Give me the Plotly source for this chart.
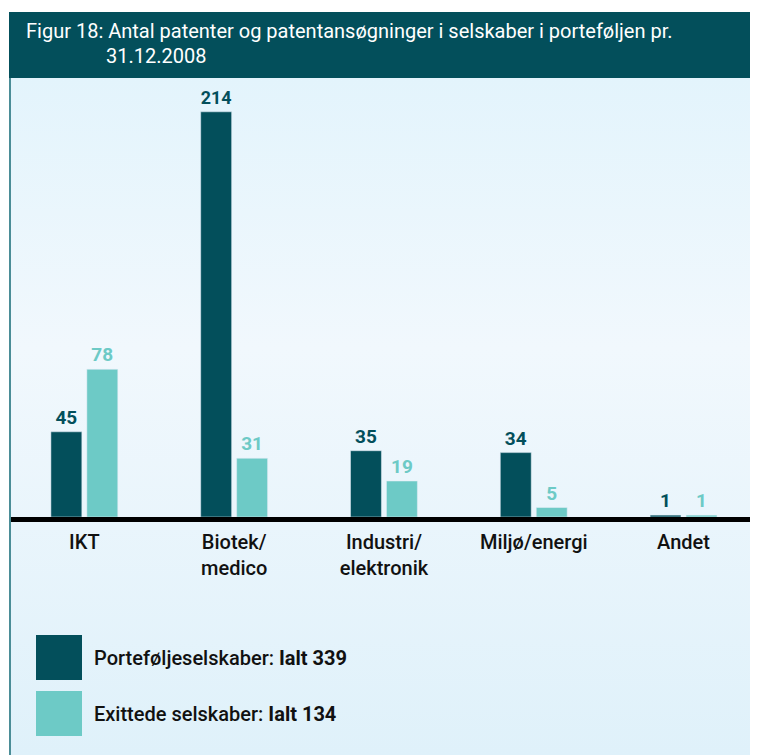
import plotly.graph_objects as go

categories = ["IKT", "Biotek/<br>medico", "Industri/<br>elektronik", "Miljø/energi", "Andet"]
portfolio = [45, 214, 35, 34, 1]
exited = [78, 31, 19, 5, 1]
series_names = ["Porteføljeselskaber: <b>Ialt 339</b>", "Exittede selskaber: <b>Ialt 134</b>"]
title_lines = ["Figur 18: Antal patenter og patentansøgninger i selskaber i porteføljen pr.", "31.12.2008"]

# the page body adds an 8px margin, so the figure is drawn 8px in and shrunk to fit
OFF = 8
W, H = 758 - OFF, 755 - OFF
DARK = "#034f5b"
LIGHT = "#6dcac6"
FONT = "Roboto"


def px_x(x):
    return (x - OFF) / W


def px_y(y):
    return 1 - (y - OFF) / H


fig = go.Figure()

# background gradient on a hidden full-page axis pair
fig.add_trace(go.Scatter(
    x=[px_x(10), 1, 1, px_x(10), px_x(10)], y=[0, 0, px_y(77), px_y(77), 0],
    fill="toself", mode="none", hoverinfo="skip", showlegend=False,
    fillgradient=dict(type="vertical",
                      colorscale=[[0, "#dff1fa"], [0.6, "#f1f8fd"], [1, "#e3f4fc"]]),
    xaxis="x", yaxis="y",
))

fig.add_trace(go.Bar(
    x=list(range(len(categories))), y=portfolio, marker_color=DARK,
    text=portfolio, textposition="outside", cliponaxis=False,
    textfont=dict(color=DARK, size=19, family=FONT, weight="bold"),
    xaxis="x2", yaxis="y2", showlegend=False,
))
fig.add_trace(go.Bar(
    x=list(range(len(categories))), y=exited, marker_color=LIGHT,
    text=exited, textposition="outside", cliponaxis=False,
    textfont=dict(color=LIGHT, size=19, family=FONT, weight="bold"),
    xaxis="x2", yaxis="y2", showlegend=False,
))

shapes = [
    # header band
    dict(type="rect", xref="paper", yref="paper", x0=px_x(9), x1=1,
         y0=px_y(78), y1=px_y(12), fillcolor=DARK, line_width=0, layer="above"),
    # left border
    dict(type="line", xref="paper", yref="paper", x0=px_x(10), x1=px_x(10),
         y0=0, y1=px_y(78), line=dict(color="#4b8d97", width=2)),
    # baseline
    dict(type="line", xref="paper", yref="paper", x0=px_x(11), x1=1,
         y0=px_y(519.5), y1=px_y(519.5), line=dict(color="#000000", width=5),
         layer="above"),
    # legend swatches
    dict(type="rect", xref="paper", yref="paper", x0=px_x(36), x1=px_x(82),
         y0=px_y(680), y1=px_y(635), fillcolor=DARK, line_width=0),
    dict(type="rect", xref="paper", yref="paper", x0=px_x(36), x1=px_x(82),
         y0=px_y(736), y1=px_y(691), fillcolor=LIGHT, line_width=0),
]

annotations = [
    dict(text=title_lines[0], x=px_x(24), y=px_y(31), xref="paper", yref="paper",
         xanchor="left", yanchor="middle", showarrow=False,
         font=dict(color="white", size=20, family=FONT)),
    dict(text=title_lines[1], x=px_x(104), y=px_y(56), xref="paper", yref="paper",
         xanchor="left", yanchor="middle", showarrow=False,
         font=dict(color="white", size=20, family=FONT)),
    dict(text=series_names[0], x=px_x(92), y=px_y(658), xref="paper", yref="paper",
         xanchor="left", yanchor="middle", showarrow=False,
         font=dict(color="#111111", size=20, family=FONT, weight=500)),
    dict(text=series_names[1], x=px_x(92), y=px_y(714), xref="paper", yref="paper",
         xanchor="left", yanchor="middle", showarrow=False,
         font=dict(color="#111111", size=20, family=FONT, weight=500)),
]

fig.update_layout(
    width=W, height=H,
    margin=dict(l=0, r=0, t=0, b=0),
    paper_bgcolor="white", plot_bgcolor="rgba(0,0,0,0)",
    barmode="group", bargap=0.52, bargroupgap=0.14,
    font=dict(family=FONT, color="#111111"),
    shapes=shapes, annotations=annotations,
    xaxis=dict(domain=[0, 1], range=[0, 1], visible=False, fixedrange=True),
    yaxis=dict(domain=[0, 1], range=[0, 1], visible=False, fixedrange=True),
    xaxis2=dict(domain=[px_x(9), 1], range=[-0.503, 4.497], anchor="y2",
                tickvals=list(range(len(categories))), ticktext=categories,
                showgrid=False, zeroline=False, showline=False, ticks="",
                tickfont=dict(size=20, color="#111111", family=FONT, weight=500),
                ticklabelstandoff=11),
    yaxis2=dict(domain=[px_y(517), px_y(80)], range=[0, 230.8], anchor="x2",
                visible=False, showgrid=False),
)

fig.write_html("out.html")
